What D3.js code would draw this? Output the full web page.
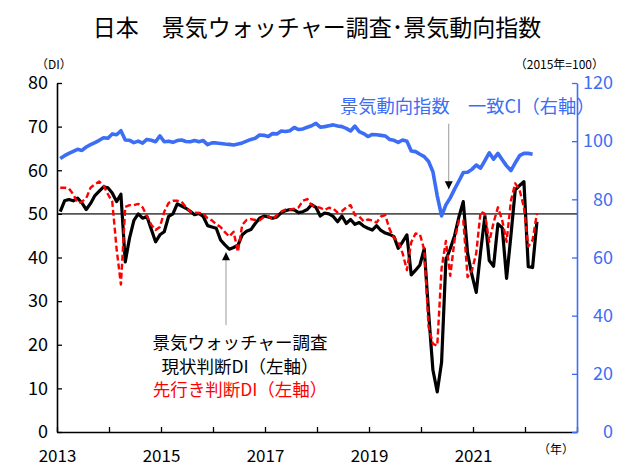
<!DOCTYPE html>
<html>
<head>
<meta charset="utf-8">
<script src="https://cdn.jsdelivr.net/npm/d3@7"></script>
<style>
body { margin: 0; background: #fff; }
text { font-family: "Noto Sans CJK JP", "Noto Sans", sans-serif; }
</style>
</head>
<body>
<div id="chart"></div>
<script>
// monthly values, starting Jan 2013
const currentDI = [
    50.5, 53.0, 53.3, 53.0, 53.6, 52.5, 51.0, 52.4, 54.2, 55.2, 56.2, 56.0,
    54.8, 52.8, 54.5, 39.0, 44.5, 48.5, 50.0, 49.0, 49.4, 46.5, 43.6, 45.2,
    45.9, 49.4, 50.0, 52.3, 51.8, 51.3, 50.6, 49.8, 50.1, 49.4, 47.3, 47.0,
    46.7, 44.0, 42.9, 41.9, 42.3, 42.8, 45.2, 46.0, 46.4, 47.8, 49.0, 49.5,
    49.3, 49.0, 49.3, 50.3, 50.7, 51.0, 50.9, 50.3, 50.5, 51.0, 52.1, 51.5,
    49.5, 50.2, 50.0, 49.4, 48.2, 49.5, 47.8, 48.7, 47.6, 48.0, 47.2, 46.7,
    46.3, 47.3, 46.2, 45.6, 45.3, 44.8, 42.1, 43.6, 45.2, 36.0, 37.1, 38.3,
    42.0, 27.4, 14.2, 9.2, 16.0, 39.5, 42.0, 45.0, 49.3, 52.8, 41.0, 36.0,
    32.0, 41.3, 49.5, 39.3, 38.0, 47.7, 46.8, 35.2, 45.0, 55.5, 56.5, 57.4,
    37.9, 37.7, 48.2
];
const outlookDI = [
    56.0, 56.0, 55.8, 54.5, 52.5, 52.8, 53.6, 56.0, 56.8, 57.4, 56.5, 54.5,
    52.8, 42.0, 33.8, 51.6, 52.0, 52.0, 52.3, 51.5, 49.5, 47.5, 46.3, 47.0,
    50.5, 52.5, 53.0, 53.0, 52.8, 51.5, 50.5, 50.3, 50.2, 50.1, 49.0, 48.5,
    47.6, 47.0, 45.8, 44.8, 45.9, 41.3, 47.5, 48.6, 48.8, 48.6, 48.5, 49.3,
    49.5, 48.7, 49.8, 50.5, 51.0, 51.0, 51.2, 51.5, 53.0, 53.4, 52.0, 51.6,
    51.4, 50.9, 51.4, 51.2, 50.3, 50.6, 51.5, 52.0, 49.7, 49.4, 48.3, 48.7,
    48.5, 48.0, 49.4, 49.7, 46.5, 44.5, 43.6, 41.0, 37.1, 43.5, 45.5, 45.3,
    41.8, 24.1, 20.2, 19.8, 37.5, 43.8, 35.8, 44.0, 48.5, 48.5, 35.5, 37.0,
    41.0, 50.5, 50.0, 43.6, 48.0, 51.5, 48.5, 43.6, 53.0, 57.0, 55.5, 51.5,
    42.5, 44.0, 50.1
];
const ciIndex = [
    94.0, 95.0, 95.8, 96.5, 97.2, 96.8, 98.0, 98.8, 99.5, 100.3, 101.2, 101.0,
    102.5, 102.2, 103.6, 100.4, 100.3, 99.5, 100.0, 99.3, 100.6, 100.3, 99.8, 101.8,
    99.8, 100.0, 99.6, 100.2, 100.4, 99.9, 99.8, 100.2, 99.8, 100.2, 98.8, 99.4,
    99.4, 99.2, 99.0, 98.9, 98.7, 99.0, 99.4, 100.0, 100.6, 101.0, 102.1, 102.0,
    101.6, 102.6, 102.5, 103.5, 103.3, 103.6, 104.7, 104.0, 104.2, 104.8, 105.3, 106.1,
    104.8, 105.0, 105.3, 105.6, 105.2, 105.0, 104.4, 103.5, 105.2, 103.3, 102.6, 101.6,
    102.3, 102.2, 102.0, 101.8, 100.6, 100.3, 99.6, 100.4, 100.0, 96.6, 96.4, 95.5,
    94.7, 93.0, 89.5, 81.2, 74.3, 78.1, 80.5, 83.5, 86.3, 89.2, 89.3, 90.3,
    91.8, 90.7, 93.3, 96.0, 93.8, 95.8, 93.6, 91.5, 89.9, 92.5, 95.0, 95.8,
    95.8, 95.5
];

const leftTicks = [0, 10, 20, 30, 40, 50, 60, 70, 80];
const rightTicks = [0, 20, 40, 60, 80, 100, 120];
const yearTicks = [2013, 2014, 2015, 2016, 2017, 2018, 2019, 2020, 2021, 2022, 2023];
const yearLabels = [2013, 2015, 2017, 2019, 2021];

const width = 638, height = 469;
const margin = {left: 57, right: 61, top: 83, bottom: 37};
const blue = "#3c6ef5";

const svg = d3.select("#chart").append("svg")
    .attr("width", width)
    .attr("height", height);

// x in months since Jan 2013
const x = d3.scaleLinear().domain([0, 120]).range([margin.left, width - margin.right]);
const yL = d3.scaleLinear().domain([0, 80]).range([height - margin.bottom, margin.top]);
const yR = d3.scaleLinear().domain([0, 120]).range([height - margin.bottom, margin.top]);
const px = i => x(i + 0.75);

// 50 line
svg.append("line")
    .attr("x1", x(0)).attr("x2", x(120))
    .attr("y1", yL(50)).attr("y2", yL(50))
    .attr("stroke", "#555").attr("stroke-width", 1.6);

// axes
const xAxis = d3.axisBottom(x)
    .tickValues(yearTicks.map(y => (y - 2013) * 12))
    .tickSizeInner(-5).tickSizeOuter(0).tickPadding(18)
    .tickFormat(m => yearLabels.includes(2013 + m / 12) ? String(2013 + m / 12) : "");
const gx = svg.append("g")
    .attr("transform", "translate(0," + (height - margin.bottom) + ")")
    .call(xAxis);

const gl = svg.append("g")
    .attr("transform", "translate(" + margin.left + ",0)")
    .call(d3.axisLeft(yL).tickValues(leftTicks).tickSizeInner(-5).tickSizeOuter(0).tickPadding(9));

const gr = svg.append("g")
    .attr("transform", "translate(" + (width - margin.right) + ",0)")
    .attr("color", blue)
    .call(d3.axisRight(yR).tickValues(rightTicks).tickSizeInner(-5).tickSizeOuter(0).tickPadding(36));
gr.selectAll(".tick text").attr("text-anchor", "end");

[gx, gl, gr].forEach(g => {
    g.selectAll(".domain").attr("stroke-width", 1.6);
    g.selectAll(".tick line").attr("stroke-width", 1.3);
    g.selectAll(".tick text")
        .attr("font-size", "18px")
        .attr("font-family", "'Noto Sans CJK JP', sans-serif");
});
gx.selectAll(".tick text").attr("fill", "#000").attr("font-size", "17px");
gl.selectAll(".tick text").attr("fill", "#000");

// lines
const lineL = d3.line().x((d, i) => px(i)).y(d => yL(d));
const lineR = d3.line().x((d, i) => px(i)).y(d => yR(d));

svg.append("path").datum(currentDI)
    .attr("d", lineL)
    .attr("fill", "none").attr("stroke", "#000")
    .attr("stroke-width", 3.2).attr("stroke-linejoin", "round");

svg.append("path").datum(outlookDI)
    .attr("d", lineL)
    .attr("fill", "none").attr("stroke", "#ff0000")
    .attr("stroke-width", 2.4).attr("stroke-dasharray", "6,3")
    .attr("stroke-linejoin", "round");

svg.append("path").datum(ciIndex)
    .attr("d", lineR)
    .attr("fill", "none").attr("stroke", blue)
    .attr("stroke-width", 3.6).attr("stroke-linejoin", "round");

// title and unit labels
svg.append("text")
    .attr("x", 317).attr("y", 36)
    .attr("text-anchor", "middle")
    .attr("font-size", "23px")
    .text("日本　景気ウォッチャー調査･景気動向指数");

svg.append("text").attr("x", 36).attr("y", 69)
    .attr("font-size", "12px").text("（DI）");
svg.append("text").attr("x", 604).attr("y", 69)
    .attr("text-anchor", "end")
    .attr("font-size", "12px").text("（2015年=100）");
svg.append("text").attr("x", 538).attr("y", 454)
    .attr("font-size", "12px").text("（年）");

// annotations
svg.append("text").attr("x", 340).attr("y", 113)
    .attr("fill", blue)
    .attr("font-size", "18.3px")
    .text("景気動向指数　一致CI（右軸）");

const arrow = (xm, yFrom, yTo) => {
    svg.append("line")
        .attr("x1", x(xm)).attr("x2", x(xm))
        .attr("y1", yFrom).attr("y2", yTo)
        .attr("stroke", "#999").attr("stroke-width", 1);
    const dir = yTo > yFrom ? 1 : -1;
    const tx = x(xm), ty = yTo;
    svg.append("path")
        .attr("d", "M" + (tx - 4) + "," + (ty - dir * 8) + "L" + (tx + 4) + "," + (ty - dir * 8) + "L" + tx + "," + ty + "Z")
        .attr("fill", "#000");
};
arrow(90.4, yR(106), yR(83.5));
arrow(39.0, yL(24.5), yL(41.2));

const diLabel = [
    {t: "景気ウォッチャー調査", c: "#000"},
    {t: "現状判断DI（左軸）", c: "#000"},
    {t: "先行き判断DI（左軸）", c: "#ff0000"}
];
svg.selectAll(".dilabel").data(diLabel).enter().append("text")
    .attr("x", 240)
    .attr("y", (d, i) => 349 + i * 23.5)
    .attr("text-anchor", "middle")
    .attr("font-size", "17.5px")
    .attr("fill", d => d.c)
    .text(d => d.t);
</script>
</body>
</html>
